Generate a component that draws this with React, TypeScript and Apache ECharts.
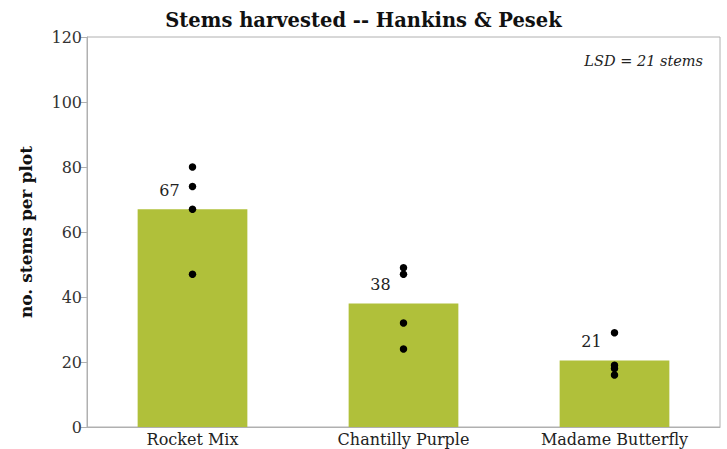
import React, { useEffect, useRef } from "react";
import * as echarts from "echarts";

const categories = ["Rocket Mix", "Chantilly Purple", "Madame Butterfly"];
const means = [67, 38, 20.5];
const rocketReps = [80, 74, 67, 47];
const chantillyReps = [49, 47, 32, 24];
const madameReps = [29, 19, 18, 16];
const yTicks = { min: 0, max: 120, interval: 20 };

export default function App() {
  const ref = useRef<HTMLDivElement>(null);
  useEffect(() => {
    if (!ref.current) return;
    const chart = echarts.init(ref.current, null, { renderer: "svg" });
    const reps = [rocketReps, chantillyReps, madameReps];
    const points: [string, number][] = [];
    reps.forEach((arr, i) => arr.forEach((v) => points.push([categories[i], v])));
    chart.setOption({
      animation: false,
      title: {
        text: "Stems harvested -- Hankins & Pesek",
        left: "center",
        top: 5,
        textStyle: { fontFamily: "DejaVu Serif", fontWeight: "bold", fontSize: 19.5, color: "#111" },
      },
      grid: {
        left: 87,
        right: 7,
        top: 37,
        bottom: 22,
        show: true,
        borderColor: "#b0b0b0",
        borderWidth: 1,
      },
      xAxis: {
        type: "category",
        data: categories,
        axisLine: { lineStyle: { color: "#b0b0b0" } },
        axisTick: { show: false },
        axisLabel: { fontFamily: "DejaVu Serif", fontSize: 16, color: "#222", margin: 4 },
      },
      yAxis: {
        type: "value",
        min: yTicks.min,
        max: yTicks.max,
        interval: yTicks.interval,
        name: "no. stems per plot",
        nameLocation: "middle",
        nameGap: 53,
        nameTextStyle: { fontFamily: "DejaVu Serif", fontWeight: "bold", fontSize: 17, color: "#111" },
        axisLine: { show: true, lineStyle: { color: "#b0b0b0" } },
        axisTick: { show: true, length: 6, lineStyle: { color: "#b0b0b0" } },
        splitLine: { show: false },
        axisLabel: { fontFamily: "DejaVu Serif", fontSize: 16, color: "#333", margin: 5 },
      },
      graphic: [
        {
          type: "text",
          right: 24,
          top: 53,
          style: {
            text: "LSD = 21 stems",
            font: "italic 14.5px 'DejaVu Serif'",
            fill: "#222",
          },
        },
      ],
      series: [
        {
          type: "bar",
          data: means,
          barWidth: "52%",
          itemStyle: { color: "#b0c03a" },
          label: {
            show: true,
            position: "top",
            offset: [-23, -6],
            formatter: (p: any) => String(Math.round(p.value)),
            fontFamily: "DejaVu Serif",
            fontSize: 16,
            color: "#222",
          },
          z: 1,
        },
        {
          type: "scatter",
          data: points,
          symbolSize: 7.5,
          itemStyle: { color: "#000", opacity: 1 },
          z: 3,
        },
      ],
    });
    return () => chart.dispose();
  }, []);
  return <div ref={ref} style={{ width: 727, height: 449, position: "absolute", left: 0, top: 0 }} />;
}
